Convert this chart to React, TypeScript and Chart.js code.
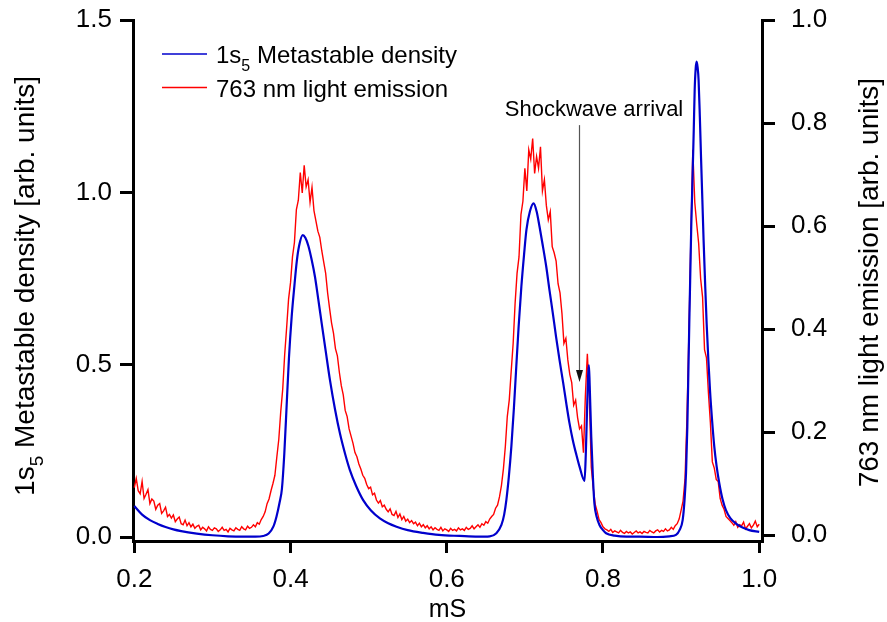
import { useEffect, useRef } from 'react';
import { Chart, registerables } from 'chart.js';

Chart.register(...registerables);

const FONT = "'Liberation Sans', Arial, Helvetica, sans-serif";

// ---- tick values ----
const xTicks = [0.2, 0.4, 0.6, 0.8, 1.0];
const leftTicks = [0.0, 0.5, 1.0, 1.5];
const rightTicks = [0.0, 0.2, 0.4, 0.6, 0.8, 1.0];

// ---- 1s5 metastable density (left axis) ----
const blueX = [
  0.200, 0.210, 0.220, 0.230, 0.240, 0.250, 0.260, 0.280, 0.300, 0.320, 0.340, 0.355, 0.365, 0.372, 0.378,
  0.382, 0.386, 0.389, 0.392, 0.395, 0.398, 0.4015, 0.405, 0.408, 0.411, 0.4156, 0.419, 0.4228, 0.427, 0.4313,
  0.4355, 0.4399, 0.445, 0.4505, 0.457, 0.4633, 0.470, 0.476, 0.484, 0.493, 0.503, 0.5144, 0.525, 0.5357, 0.550,
  0.5697, 0.590, 0.6166, 0.640, 0.655, 0.6635, 0.670, 0.6735, 0.6763, 0.6795, 0.6827, 0.686, 0.689, 0.692, 0.6955,
  0.699, 0.702, 0.7065, 0.7112, 0.715, 0.7188, 0.723, 0.7274, 0.7316, 0.7358, 0.740, 0.7444, 0.749, 0.753, 0.757,
  0.7614, 0.766, 0.770, 0.7764, 0.778, 0.7795, 0.781, 0.782, 0.783, 0.785, 0.787, 0.789, 0.792, 0.7955, 0.800,
  0.804, 0.815, 0.830, 0.8466, 0.870, 0.885, 0.8935, 0.898, 0.902, 0.9045, 0.9063, 0.908, 0.9093, 0.9105, 0.9118,
  0.913, 0.9148, 0.9162, 0.9174, 0.9187, 0.9199, 0.9212, 0.9224, 0.924, 0.9255, 0.9272, 0.9288, 0.9307, 0.9327, 0.935,
  0.937, 0.9398, 0.9425, 0.9455, 0.9489, 0.953, 0.9574, 0.963, 0.9702, 0.978, 0.9872, 1.000,
];
const blueY = [
  0.090, 0.065, 0.049, 0.038, 0.029, 0.022, 0.017, 0.010, 0.005, 0.002, 0.001, 0.001, 0.003, 0.010, 0.030,
  0.059, 0.100, 0.140, 0.240, 0.380, 0.520, 0.640, 0.730, 0.800, 0.845, 0.876, 0.868, 0.845, 0.805, 0.755,
  0.690, 0.620, 0.540, 0.455, 0.370, 0.300, 0.240, 0.194, 0.148, 0.107, 0.077, 0.054, 0.040, 0.030, 0.020,
  0.012, 0.006, 0.003, 0.001, 0.002, 0.011, 0.035, 0.065, 0.107, 0.175, 0.262, 0.375, 0.494, 0.610, 0.726,
  0.820, 0.891, 0.945, 0.968, 0.945, 0.900, 0.845, 0.784, 0.715, 0.649, 0.580, 0.513, 0.448, 0.388, 0.332,
  0.281, 0.238, 0.204, 0.163, 0.240, 0.360, 0.470, 0.499, 0.440, 0.291, 0.180, 0.098, 0.058, 0.035, 0.020,
  0.011, 0.004, 0.001, 0.001, 0.000, 0.002, 0.006, 0.020, 0.049, 0.110, 0.185, 0.320, 0.475, 0.620, 0.765,
  0.900, 1.055, 1.180, 1.297, 1.360, 1.379, 1.362, 1.326, 1.220, 1.103, 0.980, 0.862, 0.740, 0.620, 0.510,
  0.426, 0.335, 0.262, 0.205, 0.156, 0.110, 0.078, 0.055, 0.039, 0.028, 0.020, 0.015,
];

// ---- 763 nm light emission (right axis), sampled every RED_DT from RED_T0 ----
const RED_T0 = 0.2;
const RED_DT = 0.0025;
const redY = [
  0.092, 0.110, 0.086, 0.080, 0.104, 0.071, 0.079, 0.088, 0.061, 0.070,
  0.066, 0.050, 0.058, 0.061, 0.042, 0.047, 0.054, 0.036, 0.040, 0.033,
  0.039, 0.026, 0.031, 0.035, 0.022, 0.020, 0.029, 0.018, 0.024, 0.016,
  0.021, 0.013, 0.017, 0.019, 0.010, 0.015, 0.012, 0.008, 0.016, 0.011,
  0.009, 0.014, 0.012, 0.007, 0.010, 0.015, 0.009, 0.011, 0.006, 0.013,
  0.010, 0.008, 0.014, 0.011, 0.009, 0.016, 0.012, 0.010, 0.017, 0.013,
  0.015, 0.020, 0.016, 0.024, 0.021, 0.030, 0.036, 0.045, 0.061, 0.070,
  0.086, 0.100, 0.116, 0.152, 0.186, 0.240, 0.283, 0.350, 0.402, 0.458,
  0.490, 0.540, 0.568, 0.632, 0.650, 0.704, 0.664, 0.718, 0.676, 0.690,
  0.646, 0.675, 0.630, 0.610, 0.590, 0.578, 0.552, 0.530, 0.508, 0.470,
  0.440, 0.412, 0.392, 0.362, 0.348, 0.316, 0.290, 0.272, 0.242, 0.230,
  0.206, 0.192, 0.178, 0.160, 0.152, 0.138, 0.128, 0.116, 0.110, 0.098,
  0.090, 0.093, 0.078, 0.081, 0.068, 0.062, 0.067, 0.055, 0.058, 0.050,
  0.045, 0.051, 0.040, 0.038, 0.046, 0.034, 0.041, 0.030, 0.036, 0.027,
  0.031, 0.024, 0.028, 0.022, 0.025, 0.018, 0.023, 0.016, 0.020, 0.014,
  0.018, 0.012, 0.016, 0.010, 0.014, 0.011, 0.009, 0.015, 0.008, 0.012,
  0.010, 0.007, 0.013, 0.009, 0.011, 0.008, 0.014, 0.010, 0.012, 0.009,
  0.015, 0.011, 0.013, 0.018, 0.012, 0.016, 0.020, 0.015, 0.022, 0.019,
  0.026, 0.023, 0.031, 0.036, 0.040, 0.052, 0.058, 0.074, 0.096, 0.128,
  0.172, 0.230, 0.262, 0.318, 0.372, 0.450, 0.508, 0.540, 0.622, 0.648,
  0.712, 0.668, 0.748, 0.730, 0.770, 0.702, 0.735, 0.712, 0.754, 0.668,
  0.690, 0.640, 0.612, 0.628, 0.560, 0.548, 0.532, 0.488, 0.470, 0.430,
  0.372, 0.382, 0.340, 0.312, 0.296, 0.252, 0.262, 0.228, 0.206, 0.212,
  0.160, 0.272, 0.352, 0.270, 0.132, 0.092, 0.060, 0.046, 0.030, 0.024,
  0.016, 0.012, 0.010, 0.007, 0.011, 0.005, 0.008, 0.006, 0.004, 0.009,
  0.005, 0.003, 0.007, 0.004, 0.006, 0.002, 0.005, 0.008, 0.004, 0.006,
  0.003, 0.007, 0.005, 0.004, 0.009, 0.006, 0.004, 0.008, 0.010, 0.006,
  0.009, 0.007, 0.012, 0.008, 0.010, 0.015, 0.011, 0.018, 0.022, 0.031,
  0.048, 0.066, 0.108, 0.226, 0.392, 0.575, 0.748, 0.646, 0.604, 0.566,
  0.498, 0.462, 0.360, 0.344, 0.276, 0.218, 0.142, 0.130, 0.108, 0.104,
  0.071, 0.058, 0.050, 0.036, 0.032, 0.028, 0.024, 0.019, 0.026, 0.015,
  0.020, 0.018, 0.025, 0.012, 0.017, 0.022, 0.014, 0.019, 0.027, 0.016,
  0.021,
];

// ---- annotation (data coordinates, left axis units) ----
const shockArrowX = 0.7687;
const shockArrowTop = 1.195;
const shockArrowTip = 0.45;
const shockLabelX = 0.7885;
const shockLabelY = 1.221;
const shockLabel = 'Shockwave arrival';

const BLUE = '#0000cc';
const RED = '#ff0000';

type Part = { t: string; sub?: boolean };

const legendItems: { parts: Part[]; color: string }[] = [
  { parts: [{ t: '1s' }, { t: '5', sub: true }, { t: ' Metastable density' }], color: BLUE },
  { parts: [{ t: '763 nm light emission' }], color: RED },
];
const leftTitle: Part[] = [{ t: '1s' }, { t: '5', sub: true }, { t: ' Metastable density [arb. units]' }];
const rightTitle: Part[] = [{ t: '763 nm light emission [arb. units]' }];
const xTitle = 'mS';

function partsWidth(ctx: CanvasRenderingContext2D, parts: Part[], size: number) {
  let w = 0;
  for (const p of parts) {
    ctx.font = `${p.sub ? Math.round(size * 0.68) : size}px ${FONT}`;
    w += ctx.measureText(p.t).width;
  }
  return w;
}

function drawParts(ctx: CanvasRenderingContext2D, parts: Part[], x: number, y: number, size: number) {
  let cx = x;
  ctx.textBaseline = 'alphabetic';
  ctx.textAlign = 'left';
  for (const p of parts) {
    const s = p.sub ? Math.round(size * 0.68) : size;
    ctx.font = `${s}px ${FONT}`;
    ctx.fillText(p.t, cx, p.sub ? y + size * 0.33 : y);
    cx += ctx.measureText(p.t).width;
  }
}

const overlay = {
  id: 'overlay',
  afterDraw(chart: any) {
    const ctx: CanvasRenderingContext2D = chart.ctx;
    const xs = chart.scales.x;
    const yl = chart.scales.y;
    ctx.save();
    ctx.fillStyle = '#000';

    // legend
    legendItems.forEach((it, i) => {
      const ly = 54 + i * 33.5;
      ctx.strokeStyle = it.color;
      ctx.lineWidth = 1.5;
      ctx.beginPath();
      ctx.moveTo(162, ly);
      ctx.lineTo(207, ly);
      ctx.stroke();
      ctx.fillStyle = '#000';
      drawParts(ctx, it.parts, 216, ly + 9, 24);
    });

    // x title
    ctx.font = `25px ${FONT}`;
    ctx.textAlign = 'center';
    ctx.textBaseline = 'alphabetic';
    ctx.fillText(xTitle, (chart.chartArea.left + chart.chartArea.right) / 2, 617);

    // left title (rotated)
    const tSize = 28;
    ctx.save();
    ctx.translate(34, 76);
    ctx.rotate(-Math.PI / 2);
    const lw = partsWidth(ctx, leftTitle, tSize);
    drawParts(ctx, leftTitle, -lw, 0, tSize);
    ctx.restore();

    // right title (rotated)
    ctx.save();
    ctx.translate(878, 78);
    ctx.rotate(-Math.PI / 2);
    const rw = partsWidth(ctx, rightTitle, tSize);
    drawParts(ctx, rightTitle, -rw, 0, tSize);
    ctx.restore();

    // annotation
    const ax = Math.round(xs.getPixelForValue(shockArrowX)) + 0.5;
    const aTop = yl.getPixelForValue(shockArrowTop);
    const aTip = yl.getPixelForValue(shockArrowTip);
    ctx.strokeStyle = '#555';
    ctx.lineWidth = 1.2;
    ctx.beginPath();
    ctx.moveTo(ax, aTop);
    ctx.lineTo(ax, aTip - 10);
    ctx.stroke();
    ctx.fillStyle = '#111';
    ctx.beginPath();
    ctx.moveTo(ax, aTip);
    ctx.lineTo(ax - 3.5, aTip - 12);
    ctx.lineTo(ax + 3.5, aTip - 12);
    ctx.closePath();
    ctx.fill();

    ctx.fillStyle = '#000';
    ctx.font = `22px ${FONT}`;
    ctx.textAlign = 'center';
    ctx.textBaseline = 'alphabetic';
    ctx.fillText(shockLabel, xs.getPixelForValue(shockLabelX), yl.getPixelForValue(shockLabelY));

    ctx.restore();
  },
};

const fmt = (v: any) => Number(v).toFixed(1);

export default function App() {
  const ref = useRef<HTMLCanvasElement | null>(null);
  useEffect(() => {
    if (!ref.current) return;
    const blueData = blueX.map((x, i) => ({ x, y: blueY[i] }));
    const redData = redY.map((y, i) => ({ x: RED_T0 + i * RED_DT, y }));
    const tickFont = { family: FONT, size: 26 };
    const chart = new Chart(ref.current, {
      type: 'line',
      data: {
        datasets: [
          {
            label: '1s5 Metastable density',
            data: blueData,
            yAxisID: 'y',
            borderColor: BLUE,
            borderWidth: 2.2,
            pointRadius: 0,
            cubicInterpolationMode: 'monotone',
            fill: false,
          },
          {
            label: '763 nm light emission',
            data: redData,
            yAxisID: 'y1',
            borderColor: RED,
            borderWidth: 1.4,
            pointRadius: 0,
            tension: 0,
            fill: false,
          },
        ],
      },
      options: {
        responsive: false,
        animation: false,
        devicePixelRatio: 1,
        layout: { padding: { top: 20, left: 0, right: 0, bottom: 0 } },
        plugins: { legend: { display: false }, tooltip: { enabled: false } },
        scales: {
          x: {
            type: 'linear',
            position: 'bottom',
            min: 0.19834,
            max: 1.00358,
            afterBuildTicks: (s: any) => {
              s.ticks = xTicks.map((v) => ({ value: v }));
            },
            afterFit: (s: any) => {
              s.height = 81;
              s.paddingLeft = 0;
              s.paddingRight = 0;
            },
            grid: { drawOnChartArea: false, drawTicks: true, tickLength: 12, lineWidth: 3, color: '#000' },
            border: { display: true, width: 3, color: '#000' },
            ticks: { font: tickFont, color: '#000', padding: 11, maxRotation: 0, autoSkip: false, callback: fmt },
          },
          y: {
            type: 'linear',
            position: 'left',
            min: -0.0116,
            max: 1.5,
            afterBuildTicks: (s: any) => {
              s.ticks = leftTicks.map((v) => ({ value: v }));
            },
            afterFit: (s: any) => {
              s.width = 133;
              s.paddingTop = 0;
              s.paddingBottom = 0;
            },
            grid: { drawOnChartArea: false, drawTicks: true, tickLength: 13, lineWidth: 3, color: '#000' },
            border: { display: true, width: 3, color: '#000' },
            ticks: { font: tickFont, color: '#000', padding: 8, autoSkip: false, callback: fmt },
          },
          y1: {
            type: 'linear',
            position: 'right',
            min: -0.0116,
            max: 1.0,
            afterBuildTicks: (s: any) => {
              s.ticks = rightTicks.map((v) => ({ value: v }));
            },
            afterFit: (s: any) => {
              s.width = 125;
              s.paddingTop = 0;
              s.paddingBottom = 0;
            },
            grid: { drawOnChartArea: false, drawTicks: true, tickLength: 13, lineWidth: 3, color: '#000' },
            border: { display: true, width: 3, color: '#000' },
            ticks: { font: tickFont, color: '#000', padding: 16, autoSkip: false, callback: fmt },
          },
        },
      },
      plugins: [overlay],
    } as any);
    return () => chart.destroy();
  }, []);
  return (
    <div style={{ position: 'fixed', left: 0, top: 0, width: 887, height: 622, background: '#fff' }}>
      <canvas ref={ref} width={887} height={622} style={{ display: 'block', width: 887, height: 622 }} />
    </div>
  );
}
